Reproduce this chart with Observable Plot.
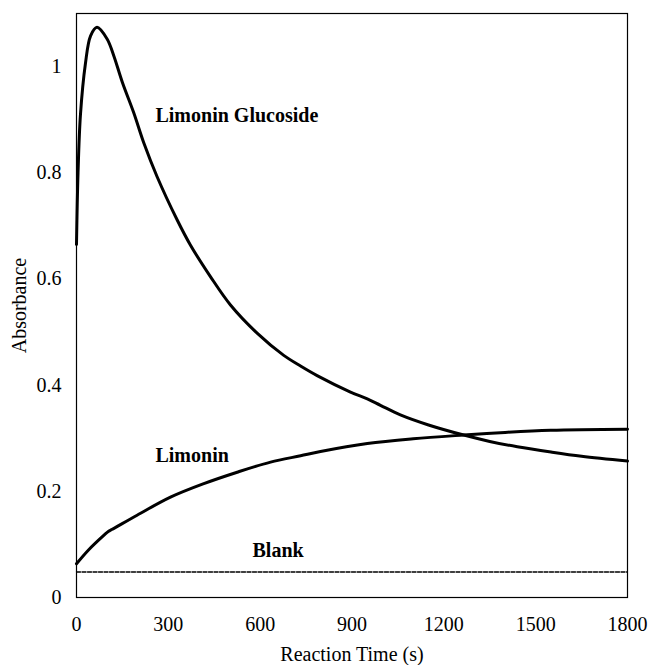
<!DOCTYPE html>
<html><head><meta charset="utf-8">
<script src="https://cdn.jsdelivr.net/npm/d3@7"></script>
<script src="https://cdn.jsdelivr.net/npm/@observablehq/plot@0.6"></script>
<style>body{margin:0;background:#fff}</style>
</head><body><div id="chart"></div>
<script>
// Limonin Glucoside
const lgTime = [0, 5, 13, 29, 46, 67, 100, 122, 150, 187, 220, 263, 329, 372, 438, 503, 590, 677, 732, 786, 895, 950, 993, 1058, 1150, 1265, 1350, 1440, 1550, 1650, 1800];
const lgAbs  = [0.665, 0.80, 0.91, 1.005, 1.058, 1.074, 1.052, 1.02, 0.97, 0.913, 0.856, 0.793, 0.711, 0.664, 0.604, 0.551, 0.498, 0.456, 0.436, 0.418, 0.387, 0.374, 0.362, 0.344, 0.325, 0.306, 0.294, 0.284, 0.274, 0.266, 0.257];
// Limonin
const limTime = [0, 40, 89, 105, 115, 198, 307, 416, 525, 634, 732, 797, 950, 1100, 1265, 1400, 1549, 1800];
const limAbs  = [0.0635, 0.09, 0.117, 0.125, 0.128, 0.155, 0.189, 0.2145, 0.236, 0.255, 0.267, 0.275, 0.290, 0.299, 0.306, 0.311, 0.315, 0.317];
// Blank
const blankTime = [0, 600, 1200, 1800];
const blankAbs  = [0.048, 0.048, 0.048, 0.048];

const xTicks = [0, 300, 600, 900, 1200, 1500, 1800];
const yTicks = [0, 0.2, 0.4, 0.6, 0.8, 1];

const labelText = ["Limonin Glucoside", "Limonin", "Blank"];
const labelTime = [258, 258, 575];
const labelAbs  = [0.907, 0.268, 0.089];

const lg = lgTime.map((t, i) => ({t, a: lgAbs[i]}));
const lim = limTime.map((t, i) => ({t, a: limAbs[i]}));
const blank = blankTime.map((t, i) => ({t, a: blankAbs[i]}));
const labels = labelText.map((s, i) => ({s, t: labelTime[i], a: labelAbs[i]}));

const chart = Plot.plot({
  width: 651, height: 665,
  marginLeft: 76, marginRight: 24, marginTop: 13, marginBottom: 68,
  style: {fontFamily: "'Liberation Serif', 'Times New Roman', serif", background: "white", color: "black"},
  x: {domain: [0, 1800]},
  y: {domain: [0, 1.1]},
  marks: [
    Plot.axisX({ticks: xTicks, tickSize: 0, tickPadding: 19, fontSize: 20, tickFormat: d => String(d),
      label: "Reaction Time (s)", labelAnchor: "center", labelOffset: 63, labelArrow: "none"}),
    Plot.axisY({ticks: yTicks, tickSize: 0, tickPadding: 15, fontSize: 20, tickFormat: d => String(d),
      label: "Absorbance", labelAnchor: "center", labelOffset: 65, labelArrow: "none"}),
    Plot.line(blank, {x: "t", y: "a", stroke: "black", strokeWidth: 1.3, strokeDasharray: "4,1.5"}),
    Plot.line(lim, {x: "t", y: "a", stroke: "black", strokeWidth: 3, curve: "catmull-rom"}),
    Plot.line(lg, {x: "t", y: "a", stroke: "black", strokeWidth: 3, curve: "catmull-rom"}),
    Plot.text(labels, {x: "t", y: "a", text: "s", textAnchor: "start", fontWeight: "bold", fontSize: 20, fill: "black"}),
    Plot.frame({stroke: "black", strokeWidth: 1.2})
  ]
});
document.getElementById("chart").appendChild(chart);
</script>
</body></html>
